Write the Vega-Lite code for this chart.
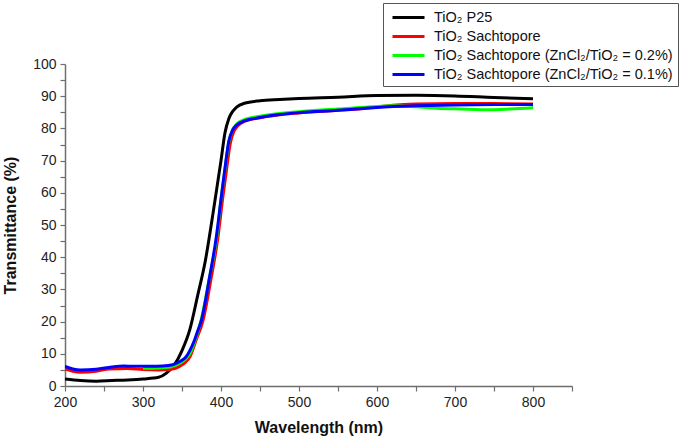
{
  "$schema": "https://vega.github.io/schema/vega-lite/v6.json",
  "autosize": {"type": "none"},
  "width": 507,
  "height": 322,
  "padding": {"left": 65, "top": 64, "right": 113, "bottom": 50},
  "background": "white",
  "config": {
    "font": "Liberation Sans",
    "view": {"stroke": null},
    "axis": {
      "domainColor": "#6e6e6e",
      "domainWidth": 1.5,
      "tickColor": "#6e6e6e",
      "tickWidth": 1.2,
      "tickSize": 5,
      "labelFont": "Liberation Sans",
      "labelFontSize": 14,
      "labelColor": "#222",
      "titleFont": "Liberation Sans",
      "titleFontSize": 16,
      "titleFontWeight": "bold",
      "titleColor": "#111",
      "grid": false
    }
  },
  "data": {
    "values": [
      {"series": "TiO₂ P25", "wl": 200, "T": 2.2},
      {"series": "TiO₂ P25", "wl": 220, "T": 1.7},
      {"series": "TiO₂ P25", "wl": 240, "T": 1.5},
      {"series": "TiO₂ P25", "wl": 260, "T": 1.7},
      {"series": "TiO₂ P25", "wl": 280, "T": 1.9},
      {"series": "TiO₂ P25", "wl": 300, "T": 2.2},
      {"series": "TiO₂ P25", "wl": 320, "T": 2.7},
      {"series": "TiO₂ P25", "wl": 330, "T": 4.0},
      {"series": "TiO₂ P25", "wl": 340, "T": 6.5},
      {"series": "TiO₂ P25", "wl": 350, "T": 11},
      {"series": "TiO₂ P25", "wl": 360, "T": 17.5},
      {"series": "TiO₂ P25", "wl": 370, "T": 28},
      {"series": "TiO₂ P25", "wl": 380, "T": 39},
      {"series": "TiO₂ P25", "wl": 390, "T": 54},
      {"series": "TiO₂ P25", "wl": 395, "T": 62},
      {"series": "TiO₂ P25", "wl": 400, "T": 70},
      {"series": "TiO₂ P25", "wl": 405, "T": 78.5},
      {"series": "TiO₂ P25", "wl": 410, "T": 83},
      {"series": "TiO₂ P25", "wl": 415, "T": 85.3},
      {"series": "TiO₂ P25", "wl": 420, "T": 86.6},
      {"series": "TiO₂ P25", "wl": 430, "T": 87.8},
      {"series": "TiO₂ P25", "wl": 450, "T": 88.6},
      {"series": "TiO₂ P25", "wl": 475, "T": 89.0},
      {"series": "TiO₂ P25", "wl": 500, "T": 89.3},
      {"series": "TiO₂ P25", "wl": 550, "T": 89.7},
      {"series": "TiO₂ P25", "wl": 600, "T": 90.2},
      {"series": "TiO₂ P25", "wl": 650, "T": 90.3},
      {"series": "TiO₂ P25", "wl": 700, "T": 90.1},
      {"series": "TiO₂ P25", "wl": 750, "T": 89.6},
      {"series": "TiO₂ P25", "wl": 800, "T": 89.2},

      {"series": "TiO₂ Sachtopore", "wl": 200, "T": 5.3},
      {"series": "TiO₂ Sachtopore", "wl": 210, "T": 4.6},
      {"series": "TiO₂ Sachtopore", "wl": 220, "T": 4.3},
      {"series": "TiO₂ Sachtopore", "wl": 240, "T": 4.6},
      {"series": "TiO₂ Sachtopore", "wl": 257, "T": 5.3},
      {"series": "TiO₂ Sachtopore", "wl": 280, "T": 5.4},
      {"series": "TiO₂ Sachtopore", "wl": 300, "T": 5.1},
      {"series": "TiO₂ Sachtopore", "wl": 320, "T": 5.0},
      {"series": "TiO₂ Sachtopore", "wl": 334, "T": 5.1},
      {"series": "TiO₂ Sachtopore", "wl": 347, "T": 6.1},
      {"series": "TiO₂ Sachtopore", "wl": 355, "T": 7.5},
      {"series": "TiO₂ Sachtopore", "wl": 360, "T": 9},
      {"series": "TiO₂ Sachtopore", "wl": 368, "T": 14.2},
      {"series": "TiO₂ Sachtopore", "wl": 377, "T": 20.4},
      {"series": "TiO₂ Sachtopore", "wl": 387, "T": 33},
      {"series": "TiO₂ Sachtopore", "wl": 396, "T": 46},
      {"series": "TiO₂ Sachtopore", "wl": 402, "T": 58},
      {"series": "TiO₂ Sachtopore", "wl": 407, "T": 67},
      {"series": "TiO₂ Sachtopore", "wl": 412, "T": 75.5},
      {"series": "TiO₂ Sachtopore", "wl": 417, "T": 79.3},
      {"series": "TiO₂ Sachtopore", "wl": 422, "T": 80.9},
      {"series": "TiO₂ Sachtopore", "wl": 430, "T": 82.2},
      {"series": "TiO₂ Sachtopore", "wl": 450, "T": 83.3},
      {"series": "TiO₂ Sachtopore", "wl": 500, "T": 84.8},
      {"series": "TiO₂ Sachtopore", "wl": 550, "T": 85.6},
      {"series": "TiO₂ Sachtopore", "wl": 600, "T": 86.6},
      {"series": "TiO₂ Sachtopore", "wl": 620, "T": 87.2},
      {"series": "TiO₂ Sachtopore", "wl": 650, "T": 87.6},
      {"series": "TiO₂ Sachtopore", "wl": 700, "T": 87.7},
      {"series": "TiO₂ Sachtopore", "wl": 750, "T": 87.7},
      {"series": "TiO₂ Sachtopore", "wl": 800, "T": 87.6},

      {"series": "TiO₂ Sachtopore (ZnCl₂/TiO₂ = 0.2%)", "wl": 300, "T": 5.5},
      {"series": "TiO₂ Sachtopore (ZnCl₂/TiO₂ = 0.2%)", "wl": 320, "T": 5.6},
      {"series": "TiO₂ Sachtopore (ZnCl₂/TiO₂ = 0.2%)", "wl": 335, "T": 5.9},
      {"series": "TiO₂ Sachtopore (ZnCl₂/TiO₂ = 0.2%)", "wl": 347, "T": 7.1},
      {"series": "TiO₂ Sachtopore (ZnCl₂/TiO₂ = 0.2%)", "wl": 355, "T": 8.5},
      {"series": "TiO₂ Sachtopore (ZnCl₂/TiO₂ = 0.2%)", "wl": 360, "T": 10},
      {"series": "TiO₂ Sachtopore (ZnCl₂/TiO₂ = 0.2%)", "wl": 365, "T": 13},
      {"series": "TiO₂ Sachtopore (ZnCl₂/TiO₂ = 0.2%)", "wl": 370, "T": 16.5},
      {"series": "TiO₂ Sachtopore (ZnCl₂/TiO₂ = 0.2%)", "wl": 375, "T": 21},
      {"series": "TiO₂ Sachtopore (ZnCl₂/TiO₂ = 0.2%)", "wl": 385, "T": 33.5},
      {"series": "TiO₂ Sachtopore (ZnCl₂/TiO₂ = 0.2%)", "wl": 395, "T": 47},
      {"series": "TiO₂ Sachtopore (ZnCl₂/TiO₂ = 0.2%)", "wl": 400, "T": 58},
      {"series": "TiO₂ Sachtopore (ZnCl₂/TiO₂ = 0.2%)", "wl": 405, "T": 67},
      {"series": "TiO₂ Sachtopore (ZnCl₂/TiO₂ = 0.2%)", "wl": 410, "T": 75.8},
      {"series": "TiO₂ Sachtopore (ZnCl₂/TiO₂ = 0.2%)", "wl": 415, "T": 79.6},
      {"series": "TiO₂ Sachtopore (ZnCl₂/TiO₂ = 0.2%)", "wl": 420, "T": 81.3},
      {"series": "TiO₂ Sachtopore (ZnCl₂/TiO₂ = 0.2%)", "wl": 430, "T": 82.7},
      {"series": "TiO₂ Sachtopore (ZnCl₂/TiO₂ = 0.2%)", "wl": 450, "T": 83.8},
      {"series": "TiO₂ Sachtopore (ZnCl₂/TiO₂ = 0.2%)", "wl": 500, "T": 85.2},
      {"series": "TiO₂ Sachtopore (ZnCl₂/TiO₂ = 0.2%)", "wl": 550, "T": 86.0},
      {"series": "TiO₂ Sachtopore (ZnCl₂/TiO₂ = 0.2%)", "wl": 600, "T": 86.8},
      {"series": "TiO₂ Sachtopore (ZnCl₂/TiO₂ = 0.2%)", "wl": 620, "T": 87.0},
      {"series": "TiO₂ Sachtopore (ZnCl₂/TiO₂ = 0.2%)", "wl": 650, "T": 86.7},
      {"series": "TiO₂ Sachtopore (ZnCl₂/TiO₂ = 0.2%)", "wl": 680, "T": 86.2},
      {"series": "TiO₂ Sachtopore (ZnCl₂/TiO₂ = 0.2%)", "wl": 700, "T": 86.1},
      {"series": "TiO₂ Sachtopore (ZnCl₂/TiO₂ = 0.2%)", "wl": 745, "T": 85.8},
      {"series": "TiO₂ Sachtopore (ZnCl₂/TiO₂ = 0.2%)", "wl": 770, "T": 86.0},
      {"series": "TiO₂ Sachtopore (ZnCl₂/TiO₂ = 0.2%)", "wl": 800, "T": 86.4},

      {"series": "TiO₂ Sachtopore (ZnCl₂/TiO₂ = 0.1%)", "wl": 200, "T": 6.1},
      {"series": "TiO₂ Sachtopore (ZnCl₂/TiO₂ = 0.1%)", "wl": 210, "T": 5.3},
      {"series": "TiO₂ Sachtopore (ZnCl₂/TiO₂ = 0.1%)", "wl": 220, "T": 5.0},
      {"series": "TiO₂ Sachtopore (ZnCl₂/TiO₂ = 0.1%)", "wl": 240, "T": 5.2},
      {"series": "TiO₂ Sachtopore (ZnCl₂/TiO₂ = 0.1%)", "wl": 260, "T": 5.9},
      {"series": "TiO₂ Sachtopore (ZnCl₂/TiO₂ = 0.1%)", "wl": 275, "T": 6.2},
      {"series": "TiO₂ Sachtopore (ZnCl₂/TiO₂ = 0.1%)", "wl": 290, "T": 6.1},
      {"series": "TiO₂ Sachtopore (ZnCl₂/TiO₂ = 0.1%)", "wl": 310, "T": 6.1},
      {"series": "TiO₂ Sachtopore (ZnCl₂/TiO₂ = 0.1%)", "wl": 325, "T": 6.2},
      {"series": "TiO₂ Sachtopore (ZnCl₂/TiO₂ = 0.1%)", "wl": 338, "T": 6.6},
      {"series": "TiO₂ Sachtopore (ZnCl₂/TiO₂ = 0.1%)", "wl": 345, "T": 7.3},
      {"series": "TiO₂ Sachtopore (ZnCl₂/TiO₂ = 0.1%)", "wl": 350, "T": 8.0},
      {"series": "TiO₂ Sachtopore (ZnCl₂/TiO₂ = 0.1%)", "wl": 355, "T": 9.0},
      {"series": "TiO₂ Sachtopore (ZnCl₂/TiO₂ = 0.1%)", "wl": 360, "T": 11},
      {"series": "TiO₂ Sachtopore (ZnCl₂/TiO₂ = 0.1%)", "wl": 366, "T": 14.2},
      {"series": "TiO₂ Sachtopore (ZnCl₂/TiO₂ = 0.1%)", "wl": 370, "T": 17},
      {"series": "TiO₂ Sachtopore (ZnCl₂/TiO₂ = 0.1%)", "wl": 375, "T": 20.5},
      {"series": "TiO₂ Sachtopore (ZnCl₂/TiO₂ = 0.1%)", "wl": 385, "T": 33.3},
      {"series": "TiO₂ Sachtopore (ZnCl₂/TiO₂ = 0.1%)", "wl": 394, "T": 46.3},
      {"series": "TiO₂ Sachtopore (ZnCl₂/TiO₂ = 0.1%)", "wl": 400, "T": 58},
      {"series": "TiO₂ Sachtopore (ZnCl₂/TiO₂ = 0.1%)", "wl": 405, "T": 67.5},
      {"series": "TiO₂ Sachtopore (ZnCl₂/TiO₂ = 0.1%)", "wl": 410, "T": 76},
      {"series": "TiO₂ Sachtopore (ZnCl₂/TiO₂ = 0.1%)", "wl": 415, "T": 79.5},
      {"series": "TiO₂ Sachtopore (ZnCl₂/TiO₂ = 0.1%)", "wl": 420, "T": 81.0},
      {"series": "TiO₂ Sachtopore (ZnCl₂/TiO₂ = 0.1%)", "wl": 430, "T": 82.3},
      {"series": "TiO₂ Sachtopore (ZnCl₂/TiO₂ = 0.1%)", "wl": 450, "T": 83.4},
      {"series": "TiO₂ Sachtopore (ZnCl₂/TiO₂ = 0.1%)", "wl": 475, "T": 84.3},
      {"series": "TiO₂ Sachtopore (ZnCl₂/TiO₂ = 0.1%)", "wl": 500, "T": 84.9},
      {"series": "TiO₂ Sachtopore (ZnCl₂/TiO₂ = 0.1%)", "wl": 550, "T": 85.6},
      {"series": "TiO₂ Sachtopore (ZnCl₂/TiO₂ = 0.1%)", "wl": 600, "T": 86.5},
      {"series": "TiO₂ Sachtopore (ZnCl₂/TiO₂ = 0.1%)", "wl": 650, "T": 87.0},
      {"series": "TiO₂ Sachtopore (ZnCl₂/TiO₂ = 0.1%)", "wl": 700, "T": 87.3},
      {"series": "TiO₂ Sachtopore (ZnCl₂/TiO₂ = 0.1%)", "wl": 750, "T": 87.4},
      {"series": "TiO₂ Sachtopore (ZnCl₂/TiO₂ = 0.1%)", "wl": 800, "T": 87.4}
    ]
  },
  "mark": {"type": "line", "strokeWidth": 3, "interpolate": "monotone", "clip": true},
  "encoding": {
    "x": {
      "field": "wl", "type": "quantitative",
      "scale": {"domain": [200, 850], "nice": false, "zero": false},
      "axis": {
        "title": "Wavelength (nm)",
        "values": [200, 250, 300, 350, 400, 450, 500, 550, 600, 650, 700, 750, 800, 850],
        "labelExpr": "datum.value % 100 === 0 && datum.value <= 800 ? datum.label : ''",
        "labelPadding": 4,
        "titlePadding": 10,
        "labelFlush": false,
        "labelOverlap": false
      }
    },
    "y": {
      "field": "T", "type": "quantitative",
      "scale": {"domain": [0, 100], "nice": false},
      "axis": {
        "title": "Transmittance (%)",
        "values": [0, 5, 10, 15, 20, 25, 30, 35, 40, 45, 50, 55, 60, 65, 70, 75, 80, 85, 90, 95, 100],
        "labelExpr": "datum.value % 10 === 0 ? datum.label : ''",
        "labelPadding": 4,
        "titlePadding": 14,
        "labelFlush": false,
        "labelOverlap": false
      }
    },
    "color": {
      "field": "series", "type": "nominal",
      "scale": {
        "domain": ["TiO₂ P25", "TiO₂ Sachtopore", "TiO₂ Sachtopore (ZnCl₂/TiO₂ = 0.2%)", "TiO₂ Sachtopore (ZnCl₂/TiO₂ = 0.1%)"],
        "range": ["#000000", "#ff0000", "#00ff00", "#0000ff"]
      },
      "legend": {
        "title": null,
        "orient": "none",
        "legendX": 318,
        "legendY": -61,
        "direction": "vertical",
        "strokeColor": "#555555",
        "fillColor": "white",
        "padding": 5,
        "symbolType": "M-2,0H2",
        "symbolSize": 256,
        "symbolStrokeWidth": 3,
        "symbolOffset": 11,
        "labelFont": "Liberation Sans",
        "labelFontSize": 14.5,
        "labelColor": "#111",
        "labelOffset": 16,
        "rowPadding": 3,
        "labelLimit": 400
      }
    },
    "order": {"value": 0}
  }
}
